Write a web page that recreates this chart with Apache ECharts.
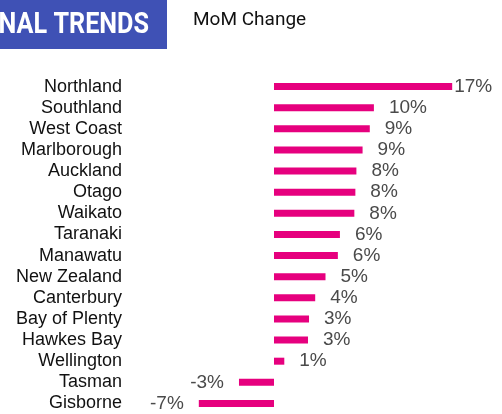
<!DOCTYPE html>
<html>
<head>
<meta charset="utf-8">
<script src="https://cdn.jsdelivr.net/npm/echarts@6/dist/echarts.min.js"></script>
<style>
  html, body { margin: 0; padding: 0; background: #fff; }
  #chart { width: 502px; height: 414px; }
</style>
</head>
<body>
<div id="chart"></div>
<script>
const regions = ['Northland', 'Southland', 'West Coast', 'Marlborough', 'Auckland', 'Otago', 'Waikato',
  'Taranaki', 'Manawatu', 'New Zealand', 'Canterbury', 'Bay of Plenty', 'Hawkes Bay', 'Wellington',
  'Tasman', 'Gisborne'];
const momChange = [17.3, 9.7, 9.3, 8.6, 8.0, 7.9, 7.8, 6.4, 6.2, 5.0, 4.0, 3.4, 3.3, 1.0, -3.4, -7.3];

const chart = echarts.init(document.getElementById('chart'));

// bar labels: outside end, negatives on the left
const barData = momChange.map((v, i) => ({
  value: v,
  label: {
    position: v < 0 ? 'left' : 'right',
    distance: i === 0 ? 2 : 15
  }
}));

const option = {
  animation: false,
  graphic: [
    {
      type: 'rect',
      shape: { x: 0, y: 0, width: 167, height: 49 },
      style: { fill: '#3f51b5' }
    },
    {
      type: 'text',
      x: 149, y: 25,
      scaleX: 0.84,
      style: {
        text: 'REGIONAL TRENDS',
        fill: '#fff',
        font: 'bold 30px Roboto',
        textAlign: 'right',
        textVerticalAlign: 'middle'
      }
    },
    {
      type: 'text',
      x: 193, y: 20,
      style: {
        text: 'MoM Change',
        fill: '#111',
        font: '19px Roboto',
        textAlign: 'left',
        textVerticalAlign: 'middle'
      }
    }
  ],
  grid: { left: 171, right: 22, top: 76, bottom: 0 },
  xAxis: {
    type: 'value',
    min: -10,
    max: 20,
    show: false
  },
  yAxis: {
    type: 'category',
    data: regions,
    inverse: true,
    axisLine: { show: false },
    axisTick: { show: false },
    splitLine: { show: false },
    axisLabel: {
      interval: 0,
      margin: 49,
      color: '#111',
      fontFamily: 'Liberation Sans',
      fontSize: 18
    }
  },
  series: [{
    type: 'bar',
    data: barData,
    barWidth: 7,
    itemStyle: { color: '#e6007e' },
    label: {
      show: true,
      color: '#4a4a4a',
      fontFamily: 'Liberation Sans',
      fontSize: 19,
      formatter: p => Math.round(p.value) + '%'
    }
  }]
};

chart.setOption(option);
</script>
</body>
</html>
